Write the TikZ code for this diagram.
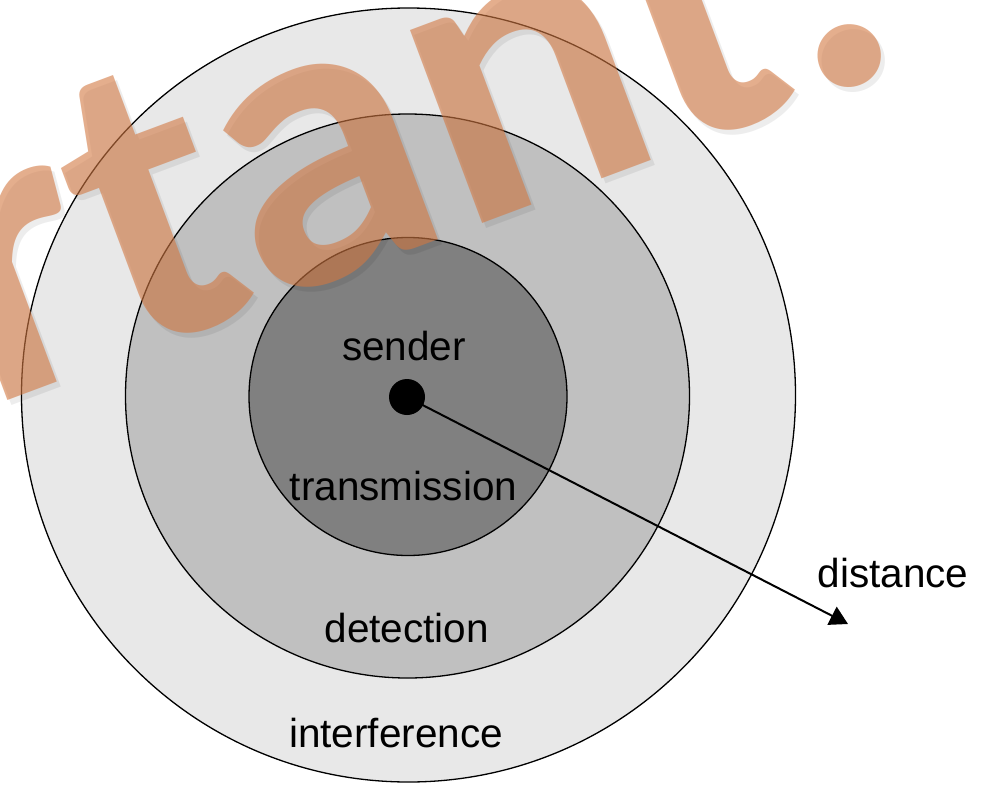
\documentclass[tikz,border=0pt]{standalone}
\usepackage{fontspec}
\setmainfont{Liberation Sans}
\newfontfamily\wmfont{Carlito}
\usetikzlibrary{arrows.meta}
\definecolor{ringout}{HTML}{E8E8E8}
\definecolor{ringmid}{HTML}{C0C0C0}
\definecolor{ringin}{HTML}{808080}
\definecolor{wmorange}{RGB}{210,120,66}
\tikzset{
  ring/.style={circle, draw=black, line width=1.3pt, inner sep=0pt},
  lbl/.style={font=\fontsize{40.5}{48}\selectfont, anchor=base, inner sep=0pt},
  wmark/.style={font=\wmfont\bfseries\fontsize{425}{425}\selectfont, rotate=20.5, anchor=base west, inner sep=0pt}
}
\begin{document}
\begin{tikzpicture}[x=1pt,y=-1pt]
\useasboundingbox (0,0) rectangle (987,784);
\clip (0,0) rectangle (987,784);
\fill[white] (0,0) rectangle (987,784);
\node[ring, fill=ringout, minimum size=774pt] (outer) at (408.5,395) {};
\node[ring, fill=ringmid, minimum size=564pt] (middle) at (407.5,396) {};
\node[ring, fill=ringin, minimum size=318pt] (inner) at (408,396.5) {};
\node[circle, fill=black, inner sep=0pt, minimum size=36pt] (dot) at (407,397) {};
\coordinate (tip) at (848,624);
\draw[line width=2pt, -{Triangle[length=18pt,width=20pt]}] (dot.center) -- (tip);
\node[lbl] (sender) at (404,360) {sender};
\node[lbl] (trans) at (403.5,500) {transmission};
\node[lbl] (detect) at (406.7,642) {detection};
\node[lbl] (interf) at (396,747) {interference};
\node[lbl] (dist) at (893,587) {distance};
\node[wmark, text=black, text opacity=0.07] (wmshadow) at (-10,414) {rtant.};
\node[wmark, text=wmorange, text opacity=0.6] (wm) at (-14,409) {rtant.};
\end{tikzpicture}
\end{document}
